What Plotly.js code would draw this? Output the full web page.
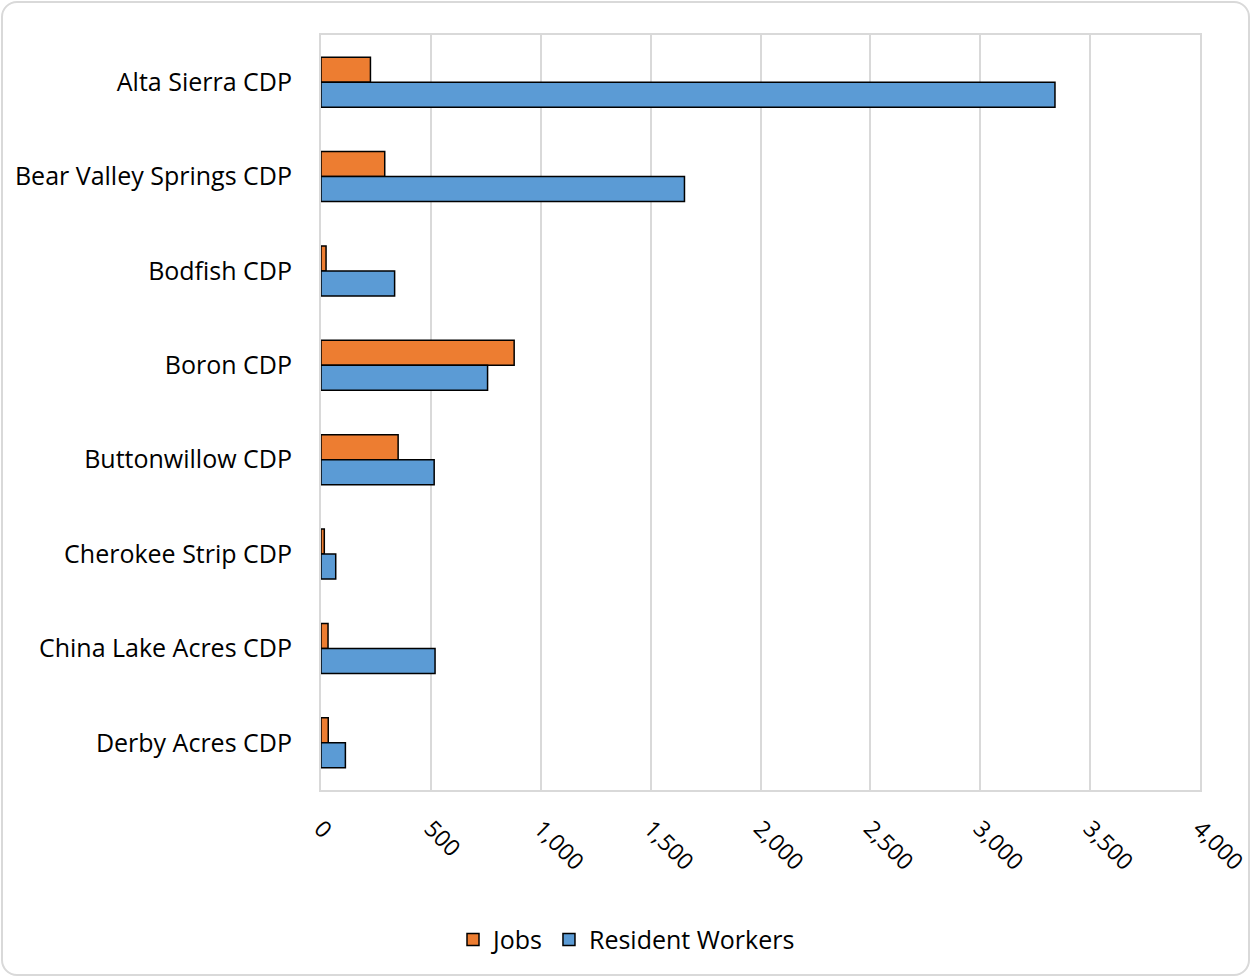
<!DOCTYPE html>
<html>
<head>
<meta charset="utf-8">
<script src="https://cdn.plot.ly/plotly-3.0.1.min.js"></script>
<style>
html,body{margin:0;padding:0;background:#fff;}
#wrap{position:relative;width:1253px;height:979px;}
#chart{position:absolute;left:0;top:0;width:1253px;height:979px;}
#frame{position:absolute;left:1px;top:1px;width:1249px;height:975px;border:2px solid #d9d9d9;border-radius:16px;pointer-events:none;box-sizing:border-box;}
</style>
</head>
<body>
<div id="wrap"><div id="chart"></div><div id="frame"></div></div>
<script>
const categories = ["Alta Sierra CDP","Bear Valley Springs CDP","Bodfish CDP","Boron CDP","Buttonwillow CDP","Cherokee Strip CDP","China Lake Acres CDP","Derby Acres CDP"];
const jobs = [225, 290, 23, 879, 351, 15, 32, 33];
const residentWorkers = [3340, 1654, 335, 758, 515, 67, 519, 111];
const tickValues = [0,500,1000,1500,2000,2500,3000,3500,4000];
const tickLabels = ["0","500","1,000","1,500","2,000","2,500","3,000","3,500","4,000"];

const font = "'Open Sans', 'Noto Sans', sans-serif";
const traces = [
  {type:'bar', orientation:'h', name:'Jobs', y:categories, x:jobs,
   marker:{color:'#ED7D31', line:{color:'#000', width:1.5}}},
  {type:'bar', orientation:'h', name:'Resident Workers', y:categories, x:residentWorkers,
   marker:{color:'#5B9BD5', line:{color:'#000', width:1.5}}}
];
const layout = {
  width:1253, height:979,
  margin:{l:321, r:53, t:35, b:189},
  paper_bgcolor:'rgba(0,0,0,0)', plot_bgcolor:'#fff',
  barmode:'group', bargap:0.47, bargroupgap:0,
  font:{family:font, size:25, color:'#000'},
  xaxis:{range:[0,4000], tickvals:tickValues, ticktext:tickLabels, tickangle:45,
    showgrid:true, gridcolor:'#d9d9d9', gridwidth:2, zeroline:false,
    showline:true, linecolor:'#d9d9d9', linewidth:2, mirror:true,
    ticks:'', ticklabelstandoff:14, ticklabeloverflow:'allow',
    tickfont:{family:font, size:23}, fixedrange:true},
  yaxis:{type:'category', autorange:'reversed', showgrid:false, zeroline:false,
    showline:true, linecolor:'#d9d9d9', linewidth:2, mirror:true,
    ticks:'', ticklabelstandoff:22, tickfont:{family:font, size:25}, fixedrange:true},
  showlegend:true,
  legend:{orientation:'h', xref:'container', yref:'container', x:0.5, xanchor:'center',
    y:0.04, yanchor:'middle', font:{family:font, size:25}, traceorder:'normal', itemwidth:30},
};
Plotly.newPlot('chart', traces, layout, {displayModeBar:false, staticPlot:true});
</script>
</body>
</html>
